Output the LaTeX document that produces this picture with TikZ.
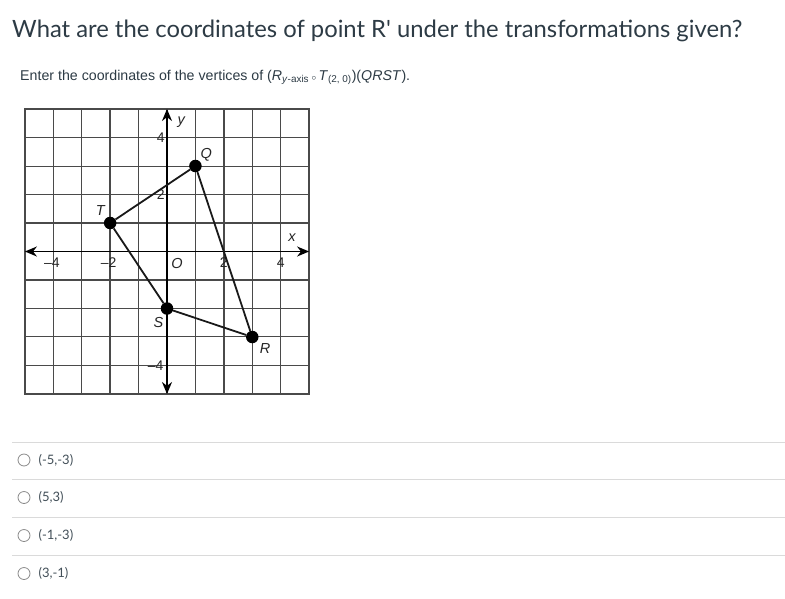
\documentclass[tikz,border=0pt]{standalone}
\usepackage{fontspec}
\setmainfont{Lato}
\newfontfamily\arialfont{Liberation Sans}
\usepackage{tikz}
\usetikzlibrary{positioning}
\usetikzlibrary{arrows.meta}

\definecolor{titlegray}{HTML}{2D3B45}
\definecolor{rulegray}{HTML}{DADADA}
\definecolor{radiogray}{HTML}{8A8A8A}
\definecolor{gridgray}{HTML}{4A4A4A}

\tikzset{
  vertex/.style={circle,fill=black,inner sep=0pt,minimum size=12.5pt},
  ptlabel/.style={inner sep=0pt,text=black!85,font=\arialfont\itshape\fontsize{14.5}{14.5}\selectfont},
  ticklabel/.style={inner sep=0pt,text=black!85,font=\arialfont\fontsize{14}{14}\selectfont},
  radio/.style={circle,draw=radiogray,line width=0.8pt,inner sep=0pt,minimum size=12pt},
  optlabel/.style={anchor=west,inner sep=0pt,text=titlegray!90,font=\fontsize{13}{13}\selectfont},
  sep/.style={rulegray,line width=0.8pt},
  side/.style={line width=1.8pt,black!90},
  axis/.style={line width=1.6pt,black,{Stealth[length=12pt,width=10pt]}-{Stealth[length=12pt,width=10pt]}}
}

\begin{document}
\begin{tikzpicture}[x=1pt,y=-1pt]
  \useasboundingbox[fill=white] (0,0) rectangle (785,598);

  % question
  \node[anchor=base west,inner sep=0pt,text=titlegray,font=\fontsize{23.8}{23.8}\selectfont] (title) at (12,37.5)
    {What are the coordinates of point R\textquotesingle{} under the transformations given?};
  \node[anchor=base west,inner sep=0pt,text=titlegray,font=\arialfont\fontsize{14.2}{14.2}\selectfont] (instr) at (20,80)
    {Enter the coordinates of the vertices of (\textit{R}\textsubscript{\textit{y}-axis}\,{\small$\circ$}\,\textit{T}\textsubscript{(2, 0)})(\textit{QRST}).};

  % coordinate plane
  \begin{scope}[shift={(167,251.5)},x=28.42pt,y=28.5pt]
    \draw[gridgray,line width=1.2pt] (-5,-5) grid (5,5);
    \draw[gridgray,line width=1.3pt] (-5,-5) rectangle (5,5);
    \coordinate (xl) at (-5,0);
    \coordinate (xr) at (5,0);
    \coordinate (yb) at (0,-5);
    \coordinate (yt) at (0,5);
    \draw[axis] (xl) -- (xr);
    \draw[axis] (yb) -- (yt);

    \node[ticklabel] (xm4) at (-4.05,-0.4) {\textendash4};
    \node[ticklabel] (xm2) at (-2.05,-0.4) {\textendash2};
    \node[ptlabel] (orig) at (0.35,-0.42) {O};
    \node[ticklabel] (xp2) at (2,-0.4) {2};
    \node[ticklabel] (xp4) at (4,-0.4) {4};
    \node[ticklabel] (yp4) at (-0.22,4) {4};
    \node[ticklabel] (yp2) at (-0.22,2) {2};
    \node[ticklabel] (ym4) at (-0.4,-4) {\textendash4};
    \node[ptlabel] (xlab) at (4.4,0.5) {x};
    \node[ptlabel] (ylab) at (0.5,4.55) {y};

    \node[vertex] (q) at (1,3) {};
    \node[vertex] (r) at (3,-3) {};
    \node[vertex] (s) at (0,-2) {};
    \node[vertex] (t) at (-2,1) {};

    \draw[side] (q) -- (r);
    \draw[side] (r) -- (s);
    \draw[side] (s) -- (t);
    \draw[side] (t) -- (q);

    \node[ptlabel] (ql) at (1.38,3.4) {Q};
    \node[ptlabel] (rl) at (3.45,-3.4) {R};
    \node[ptlabel] (sl) at (-0.3,-2.48) {S};
    \node[ptlabel] (tl) at (-2.35,1.45) {T};
  \end{scope}

  % answer choices
  \draw[sep] (12,442) -- (785,442);
  \draw[sep] (12,479.5) -- (785,479.5);
  \draw[sep] (12,517) -- (785,517);
  \draw[sep] (12,555) -- (785,555);

  \node[radio] (radio1) at (24,460) {};
  \node[radio] (radio2) at (24,497.5) {};
  \node[radio] (radio3) at (24,535.5) {};
  \node[radio] (radio4) at (24,573.5) {};

  \node[optlabel] (opt1) [right = 8pt of radio1] {(-5,-3)};
  \node[optlabel] (opt2) [right = 8pt of radio2] {(5,3)};
  \node[optlabel] (opt3) [right = 8pt of radio3] {(-1,-3)};
  \node[optlabel] (opt4) [right = 8pt of radio4] {(3,-1)};
\end{tikzpicture}
\end{document}
